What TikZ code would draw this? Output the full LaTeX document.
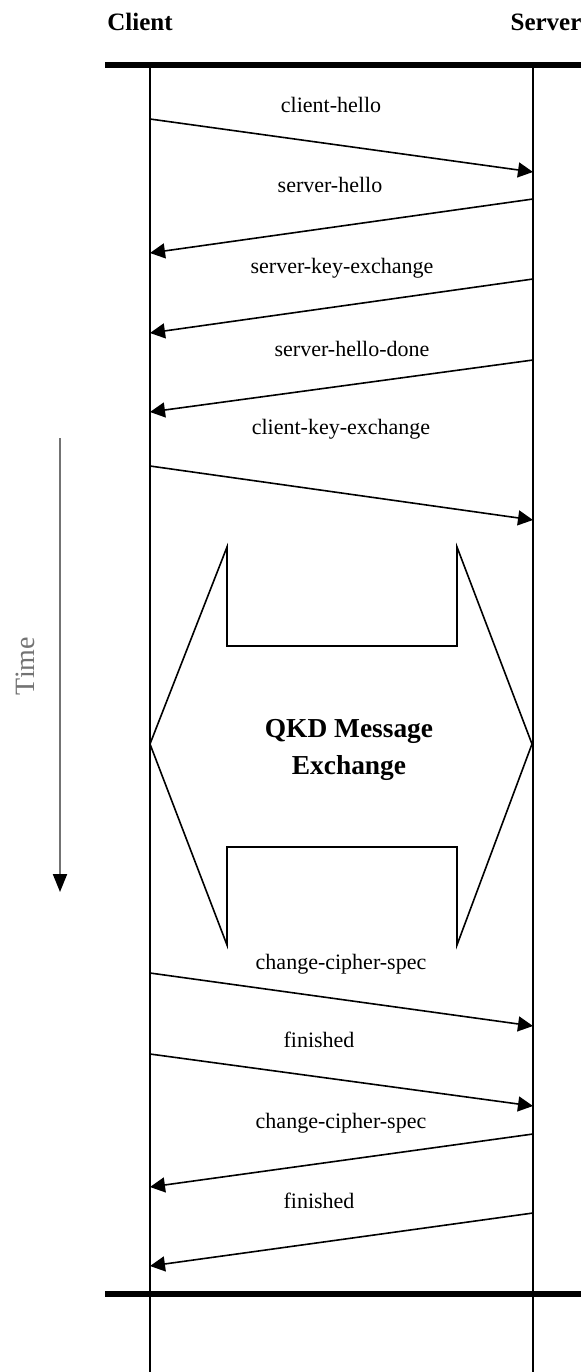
\documentclass[tikz,border=0pt]{standalone}
\usepackage{fontspec}
\setmainfont{Liberation Serif}
\usetikzlibrary{arrows.meta}
\begin{document}
\begin{tikzpicture}[x=0.5pt,y=-0.5pt,
  msg/.style={line width=0.8pt,-{Triangle[length=7.5pt,width=7.5pt]}},
  lbl/.style={font=\fontsize{11}{13}\selectfont,inner sep=0pt,anchor=center},
  party/.style={font=\fontsize{12.5}{15}\selectfont\bfseries,inner sep=0pt},
  lifeline/.style={line width=1pt},
  bar/.style={line width=2.6pt}]
\useasboundingbox (0,0) rectangle (584,1372);

% participants
\node[party] (client) at (140,22) {Client};
\node[party] (server) at (546,22) {Server};

% top and bottom bars
\coordinate (tl) at (105,65);  \coordinate (tr) at (581,65);
\coordinate (bl) at (105,1294); \coordinate (br) at (581,1294);
\draw[bar] (tl) -- (tr);
\draw[bar] (bl) -- (br);

% lifelines
\coordinate (c0) at (150,65);  \coordinate (c1) at (150,1372);
\coordinate (s0) at (533,65);  \coordinate (s1) at (533,1372);
\draw[lifeline] (c0) -- (c1);
\draw[lifeline] (s0) -- (s1);

% message end points
\coordinate (m1a) at (150,119);  \coordinate (m1b) at (533,172);
\coordinate (m2a) at (533,199);  \coordinate (m2b) at (150,253);
\coordinate (m3a) at (533,279);  \coordinate (m3b) at (150,333);
\coordinate (m4a) at (533,360);  \coordinate (m4b) at (150,412);
\coordinate (m5a) at (150,466);  \coordinate (m5b) at (533,520);
\coordinate (m6a) at (150,973);  \coordinate (m6b) at (533,1026);
\coordinate (m7a) at (150,1054); \coordinate (m7b) at (533,1106);
\coordinate (m8a) at (533,1134); \coordinate (m8b) at (150,1187);
\coordinate (m9a) at (533,1213); \coordinate (m9b) at (150,1266);

\draw[msg] (m1a) -- (m1b);
\draw[msg] (m2a) -- (m2b);
\draw[msg] (m3a) -- (m3b);
\draw[msg] (m4a) -- (m4b);
\draw[msg] (m5a) -- (m5b);
\draw[msg] (m6a) -- (m6b);
\draw[msg] (m7a) -- (m7b);
\draw[msg] (m8a) -- (m8b);
\draw[msg] (m9a) -- (m9b);

% message labels
\node[lbl] (l1) at (331,105)  {client-hello};
\node[lbl] (l2) at (330,185)  {server-hello};
\node[lbl] (l3) at (342,268)  {server-key-exchange};
\node[lbl] (l4) at (352,349)  {server-hello-done};
\node[lbl] (l5) at (341,429)  {client-key-exchange};
\node[lbl] (l6) at (341,964)  {change-cipher-spec};
\node[lbl] (l7) at (319,1040) {finished};
\node[lbl] (l8) at (341,1123) {change-cipher-spec};
\node[lbl] (l9) at (319,1201) {finished};

% double-headed block arrow for the QKD phase
\draw[line width=0.8pt,line join=miter]
  (150,744) -- (227,547) -- (227,646) -- (457,646) -- (457,547)
  -- (532,744) -- (457,945) -- (457,847) -- (227,847) -- (227,945) -- cycle;
\node[font=\fontsize{13.7}{18.5}\selectfont\bfseries,align=center,inner sep=0pt]
  (qkd) at (349,750) {QKD Message\\Exchange};

% time axis
\coordinate (t0) at (60,438);
\coordinate (t1) at (60,892);
\draw[line width=1pt,draw=black!55,-{Triangle[length=9pt,width=7pt,fill=black,color=black]}] (t0) -- (t1);
\node[rotate=90,text=black!55,font=\fontsize{14}{16}\selectfont,inner sep=0pt]
  (time) at (25,666) {Time};
\end{tikzpicture}
\end{document}
